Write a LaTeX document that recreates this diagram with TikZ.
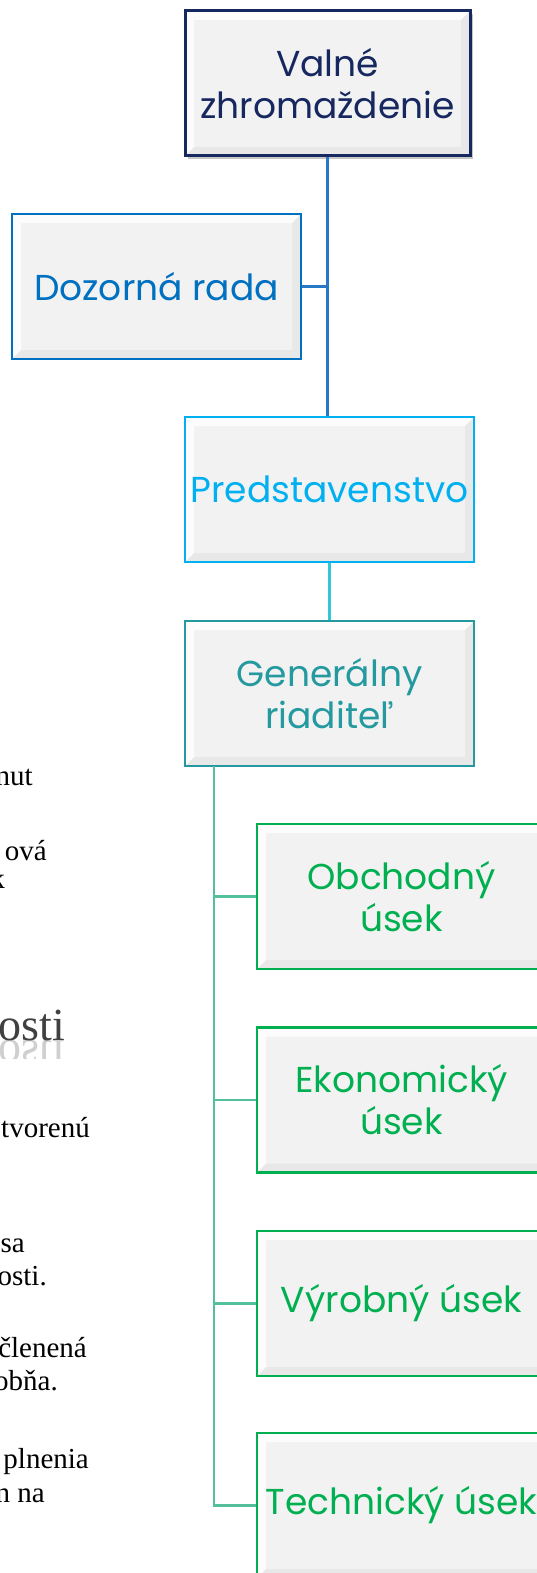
\documentclass[tikz,border=0pt]{standalone}
\usepackage{fontspec}
\setmainfont{Liberation Serif}
\newfontfamily\boxfont{Poppins}
\usetikzlibrary{shadows}
\definecolor{vznavy}{RGB}{23, 40, 96}
\definecolor{vzblue}{RGB}{40, 120, 200}
\definecolor{drblue}{RGB}{0, 112, 192}
\definecolor{prcyan}{RGB}{0, 176, 240}
\definecolor{lncyan}{RGB}{48, 200, 216}
\definecolor{grteal}{RGB}{36, 154, 160}
\definecolor{usgreen}{RGB}{0, 176, 80}
\definecolor{trgreen}{RGB}{84, 191, 155}
\definecolor{boxgray}{RGB}{242, 242, 242}
\definecolor{fraggray}{RGB}{64, 64, 64}

\begin{document}
\begin{tikzpicture}[x=1pt, y=-1pt,
  orgbox/.style={draw, line width=2.5pt, fill=boxgray, minimum width=289pt,
    minimum height=145pt, inner sep=0pt, align=center,
    font=\boxfont\fontsize{36}{42}\selectfont,
    path picture={
      \fill[white, opacity=.8] (path picture bounding box.north west)
        -- (path picture bounding box.north east)
        -- ([shift={(-9pt,-9pt)}]path picture bounding box.north east)
        -- ([shift={(9pt,-9pt)}]path picture bounding box.north west)
        -- ([shift={(9pt,9pt)}]path picture bounding box.south west)
        -- (path picture bounding box.south west) -- cycle;
      \fill[black, opacity=.04] (path picture bounding box.south west)
        -- (path picture bounding box.south east)
        -- (path picture bounding box.north east)
        -- ([shift={(-9pt,-9pt)}]path picture bounding box.north east)
        -- ([shift={(-9pt,9pt)}]path picture bounding box.south east)
        -- ([shift={(9pt,9pt)}]path picture bounding box.south west) -- cycle;
    }},
  link/.style={line width=2.5pt},
  frag/.style={anchor=base east, inner sep=0pt, font=\fontsize{29}{33}\selectfont}]

  \useasboundingbox (0,0) rectangle (537,1573);
  \clip (0,0) rectangle (537,1573);

  % Text cut off at the left edge
  \node[frag] (fnut) at (33,785) {nut};
  \node[frag] (fova) at (47,860) {ová};
  \node[frag] (fk) at (5,888) {k};
  \node[frag, font=\fontsize{46}{50}\selectfont, text=fraggray] (fosti) at (65,1040) {osti};
  \coordinate (ostibase) at (65,1040);
  \begin{scope}
    \clip (0,1040) rectangle (80,1058);
    \node[frag, font=\fontsize{46}{50}\selectfont, text=fraggray, opacity=.25,
      yscale=-1, transform shape] (fostiref) at (ostibase) {osti};
  \end{scope}
  \node[frag] (ftvor) at (90,1137) {tvorenú};
  \node[frag] (fsa) at (25,1252) {sa};
  \node[frag] (fosti2) at (47,1285) {osti.};
  \node[frag] (fclen) at (87,1357) {členená};
  \node[frag] (fobna) at (58,1390) {obňa.};
  \node[frag] (fpln) at (89,1468) {plnenia};
  \node[frag] (fnna) at (45,1502) {n na};

  % Boxes
  \node[orgbox, draw=vznavy, text=vznavy, line width=3pt, minimum width=285pt,
    drop shadow={shadow xshift=3pt, shadow yshift=-3pt, opacity=.45}]
    (valne) at (327.5,83.5) {Valné\\zhromaždenie};
  \node[orgbox, draw=drblue, text=drblue] (dozor) at (156.5,286.5) {Dozorná rada};
  \node[orgbox, draw=prcyan, text=prcyan] (pred) at (329.5,489.5) {Predstavenstvo};
  \node[orgbox, draw=grteal, text=grteal] (gen) at (329.5,693.5) {Generálny\\riaditeľ};
  \node[orgbox, draw=usgreen, text=usgreen] (obch) at (401.5,896.5) {Obchodný\\úsek};
  \node[orgbox, draw=usgreen, text=usgreen] (ekon) at (401.5,1100) {Ekonomický\\úsek};
  \node[orgbox, draw=usgreen, text=usgreen] (vyrob) at (401.5,1303.5) {Výrobný úsek};
  \node[orgbox, draw=usgreen, text=usgreen] (tech) at (401.5,1505.5) {Technický úsek};

  % Connectors
  \draw[link, vzblue] (valne.south) -- (valne.south |- pred.north);
  \draw[link, vzblue] (dozor.east) -- (dozor.east -| valne.south);
  \draw[link, lncyan] (pred.south) -- (gen.north);
  \coordinate (gtrunk) at (214,766);
  \draw[link, trgreen] (gtrunk) |- (obch.west);
  \draw[link, trgreen] (gtrunk) |- (ekon.west);
  \draw[link, trgreen] (gtrunk) |- (vyrob.west);
  \draw[link, trgreen] (gtrunk) |- (tech.west);
\end{tikzpicture}
\end{document}
